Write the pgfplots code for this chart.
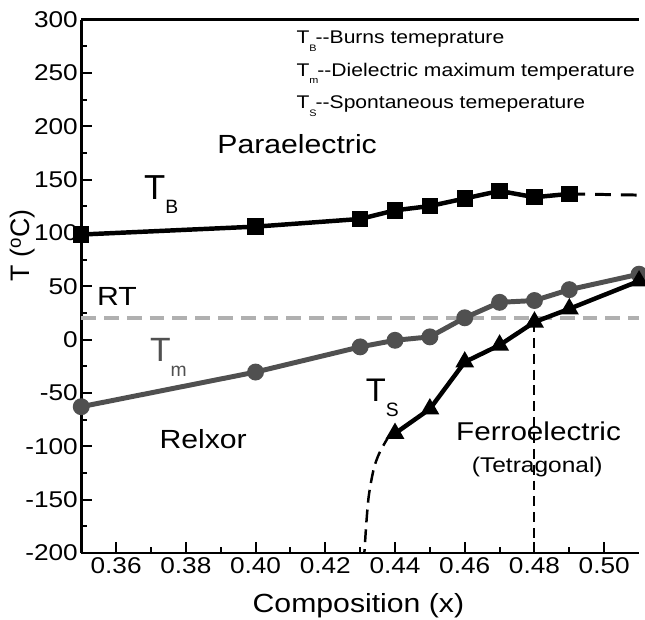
\documentclass[border=0pt]{standalone}
\usepackage{fontspec}
\setmainfont{Liberation Sans}[FakeStretch=1.15]
\newfontfamily\plainsans{Liberation Sans}
\usepackage{pgfplots}
\pgfplotsset{compat=1.18}
\definecolor{tmgray}{HTML}{505050}
\definecolor{rtgray}{HTML}{B0B0B0}
\newcommand{\fs}[1]{\fontsize{#1}{#1}\selectfont}
\begin{document}
\begin{tikzpicture}
\begin{axis}[
  scale only axis, width=563pt, height=538pt,
  xmin=0.35, xmax=0.51, ymin=-200, ymax=300,
  axis x line*=box, axis y line*=left,
  axis line style={line width=2.7pt,-},
  xtick={0.36,0.38,0.40,0.42,0.44,0.46,0.48,0.50},
  xticklabels={0.36,0.38,0.40,0.42,0.44,0.46,0.48,0.50},
  minor xtick={0.37,0.39,0.41,0.43,0.45,0.47,0.49},
  ytick={-200,-150,-100,-50,0,50,100,150,200,250,300},
  yticklabels={-200,-150,-100,-50,0,50,100,150,200,250,300},
  minor ytick={-175,-125,-75,-25,25,75,125,175,225,275},
  xtick pos=left, ytick pos=left,
  tick align=inside,
  major tick length=11pt, minor tick length=6pt,
  tick style={black, line width=2pt},
  ticklabel style={font=\fs{23}},
  xticklabel style={yshift=-1pt},
]
% RT line
\addplot[rtgray, line width=3.5pt, dash pattern=on 15pt off 8pt] coordinates {(0.35,20.5)(0.51,20.5)};
% vertical dashed at 0.48
\addplot[black, line width=2pt, dash pattern=on 10pt off 6pt] coordinates {(0.48,16.5)(0.48,-200)};
% Ts extrapolation
\addplot[black, line width=2.5pt, dash pattern=on 13pt off 7pt, smooth] coordinates {(0.4385,-89)(0.4356,-105.8)(0.4339,-121.3)(0.4325,-146)(0.4318,-170.9)(0.4313,-195.6)(0.4312,-200)};
% TB extension
\addplot[black, line width=3pt, dash pattern=on 16pt off 10pt] coordinates {(0.49,136.7)(0.51,135.6)};
% TB
\addplot[black, line width=4.5pt, mark=square*, mark size=6pt, mark options={solid}] coordinates {
(0.35,98.6)(0.40,106)(0.43,113.2)(0.44,121.3)(0.45,125.3)(0.46,132.4)(0.47,139.5)(0.48,133.6)(0.49,136.7)};
% Tm
\addplot[tmgray, line width=5pt, mark=*, mark size=6pt, mark options={solid, fill=tmgray}] coordinates {
(0.35,-62.9)(0.40,-30.4)(0.43,-6.8)(0.44,-0.6)(0.45,2.6)(0.46,20.5)(0.47,35)(0.48,36.7)(0.49,46.9)(0.51,61.4)};
% Ts
\addplot[black, line width=4.5pt, mark=triangle*, mark size=6.5pt, mark options={solid}] coordinates {
(0.44,-88)(0.45,-65)(0.46,-21)(0.47,-5.1)(0.48,16.5)(0.49,28.9)(0.51,55)};

% annotations
\node[anchor=base west, inner sep=0, font=\fs{18.5}] at (axis cs:0.4117,277.7) {T\raisebox{-7.7pt}{\fs{9.5}B}\kern-1pt-\kern0pt-Burns temeprature};
\node[anchor=base west, inner sep=0, font=\fs{18.5}] at (axis cs:0.4117,247) {T\raisebox{-7.7pt}{\fs{9.5}m}\kern-1pt-\kern0pt-Dielectric maximum temperature};
\node[anchor=base west, inner sep=0, font=\fs{18.5}] at (axis cs:0.4117,216.4) {T\raisebox{-7.7pt}{\fs{9.5}S}\kern-1pt-\kern0pt-Spontaneous temeperature};
\node[anchor=base west, inner sep=0, font=\fs{26.5}] at (axis cs:0.3890,174.5) {Paraelectric};
\node[anchor=base west, inner sep=0, font=\plainsans\fs{35}] at (axis cs:0.3680,131.1) {T\raisebox{-13.3pt}{\fs{19.5}B}};
\node[anchor=base west, inner sep=0, font=\fs{26.5}] at (axis cs:0.3545,32.3) {RT};
\node[anchor=base west, inner sep=0, font=\plainsans\fs{34}, text=tmgray] at (axis cs:0.3697,-20.6) {T\raisebox{-15pt}{\fs{19.5}m}};
\node[anchor=base west, inner sep=0, font=\plainsans\fs{33}] at (axis cs:0.4316,-57.8) {T\raisebox{-15pt}{\fs{19.5}S}};
\node[anchor=base west, inner sep=0, font=\fs{26.5}] at (axis cs:0.3724,-102) {Relxor};
\node[anchor=base west, inner sep=0, font=\fs{26}] at (axis cs:0.4575,-95) {Ferroelectric};
\node[anchor=base west, inner sep=0, font=\fs{21.5}] at (axis cs:0.4620,-124.5) {(Tetragonal)};
\coordinate (yl) at (axis cs:0.35,88.6);
\coordinate (xl) at (axis cs:0.4295,-200);
\end{axis}
\node[rotate=90, inner sep=0, font=\plainsans\fs{27}] at ([xshift=-59pt]yl) {T (\textsuperscript{o}C)};
\node[anchor=base, inner sep=0, font=\fs{26.5}] at ([yshift=-60pt]xl) {Composition (x)};
\path ([shift={(-82pt,-67pt)}]current axis.south west) rectangle ++(645pt,625pt);
\end{tikzpicture}
\end{document}
